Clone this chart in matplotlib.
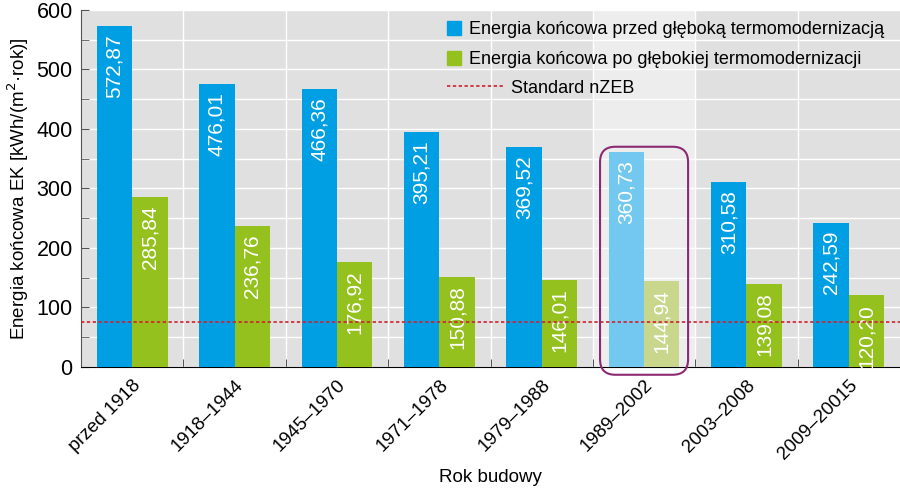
import matplotlib.pyplot as plt
from matplotlib.patches import FancyBboxPatch, Patch
from matplotlib.lines import Line2D
import numpy as np

# Data
categories = ["przed 1918", "1918–1944", "1945–1970", "1971–1978",
              "1979–1988", "1989–2002", "2003–2008", "2009–20015"]
before = [572.87, 476.01, 466.36, 395.21, 369.52, 360.73, 310.58, 242.59]
after = [285.84, 236.76, 176.92, 150.88, 146.01, 144.94, 139.08, 120.20]
nzeb = 75
highlight = 5

BLUE = "#009fe3"
GREEN = "#95c11f"
BLUE_LIGHT = "#72c8ef"
GREEN_LIGHT = "#c8d78c"
RED = "#d0202e"

plt.rcParams["font.family"] = ["Liberation Sans", "DejaVu Sans"]

fig = plt.figure(figsize=(9, 4.91), dpi=100)
ax = fig.add_axes([0.09, 0.2525, 0.91, 0.7275])
ax.set_facecolor("#e0e0e0")

x = np.arange(len(categories))
w = 0.345
blue_cols = [BLUE_LIGHT if i == highlight else BLUE for i in x]
green_cols = [GREEN_LIGHT if i == highlight else GREEN for i in x]

# lighter column behind highlighted group
ax.axvspan(highlight - 0.5, highlight + 0.5, color="#ededed", zorder=0.5, lw=0)

ax.bar(x - w / 2, before, w, color=blue_cols, zorder=3)
ax.bar(x + w / 2, after, w, color=green_cols, zorder=3)

# value labels inside bars
for i in x:
    for xpos, val in ((i - w / 2, before[i]), (i + w / 2, after[i])):
        ax.text(xpos, val - 14, f"{val:.2f}".replace(".", ","), rotation=90,
                ha="center", va="top", color="white", fontsize=15, zorder=4)

ax.axhline(nzeb, color=RED, ls=(0, (2, 1.5)), lw=1.2, zorder=5)

ax.set_xlim(-0.5, len(categories) - 0.5)
ax.set_ylim(0, 600)
ax.set_yticks(range(0, 601, 100))
ax.set_yticks(range(50, 600, 100), minor=True)
ax.set_xticks(x)
ax.set_xticklabels(categories, rotation=45, ha="right", rotation_mode="anchor",
                   fontsize=13.5)
ax.set_xticks(x[:-1] + 0.5, minor=True)
ax.tick_params(axis="x", which="major", length=0, pad=7)
ax.tick_params(axis="x", which="minor", direction="in", length=6, color="#333333")
ax.tick_params(axis="y", which="both", direction="in", length=6, labelsize=15.5,
               color="#555555", pad=6)

ax.grid(axis="y", which="both", color="white", lw=1, zorder=1)
ax.grid(axis="x", which="minor", color="white", lw=1, zorder=1)
ax.set_axisbelow(True)

for s in ("top", "right"):
    ax.spines[s].set_visible(False)
ax.spines["left"].set_color("#555555")
ax.spines["bottom"].set_color("black")

ax.set_ylabel("Energia końcowa EK [kWh/(m$^2$·rok)]", fontsize=13.5, labelpad=4)
ax.set_xlabel("Rok budowy", fontsize=13.5)
ax.xaxis.set_label_coords(0.5, -0.285)

# rounded frame around highlighted group
px_x = 819 / len(categories)
px_y = 357 / 600
r = 0.15
box = FancyBboxPatch((highlight - 0.43, -13), 0.86, 383,
                     boxstyle=f"round,pad=0,rounding_size={r}",
                     mutation_aspect=(r * px_x / px_y) / r,
                     fc="none", ec="#8b2a73", lw=1.5, clip_on=False, zorder=6)
ax.add_patch(box)

# legend: bars and nZEB line as two blocks
bar_leg = ax.legend([Patch(color=BLUE), Patch(color=GREEN)],
                    ["Energia końcowa przed głęboką termomodernizacją",
                     "Energia końcowa po głębokiej termomodernizacji"],
                    loc="upper left", bbox_to_anchor=(0.447, 0.968),
                    frameon=False, fontsize=13, borderpad=0, borderaxespad=0,
                    handlelength=0.78, handleheight=0.78, handletextpad=0.45,
                    labelspacing=0.72)
ax.add_artist(bar_leg)
ax.legend([Line2D([], [], color=RED, ls=(0, (2, 1.5)), lw=1.2)],
          ["Standard nZEB"], loc="center left", bbox_to_anchor=(0.447, 0.781),
          frameon=False, fontsize=13, borderpad=0, borderaxespad=0,
          handlelength=3.2, handletextpad=0.35)

fig.savefig("out.png", dpi=100)
